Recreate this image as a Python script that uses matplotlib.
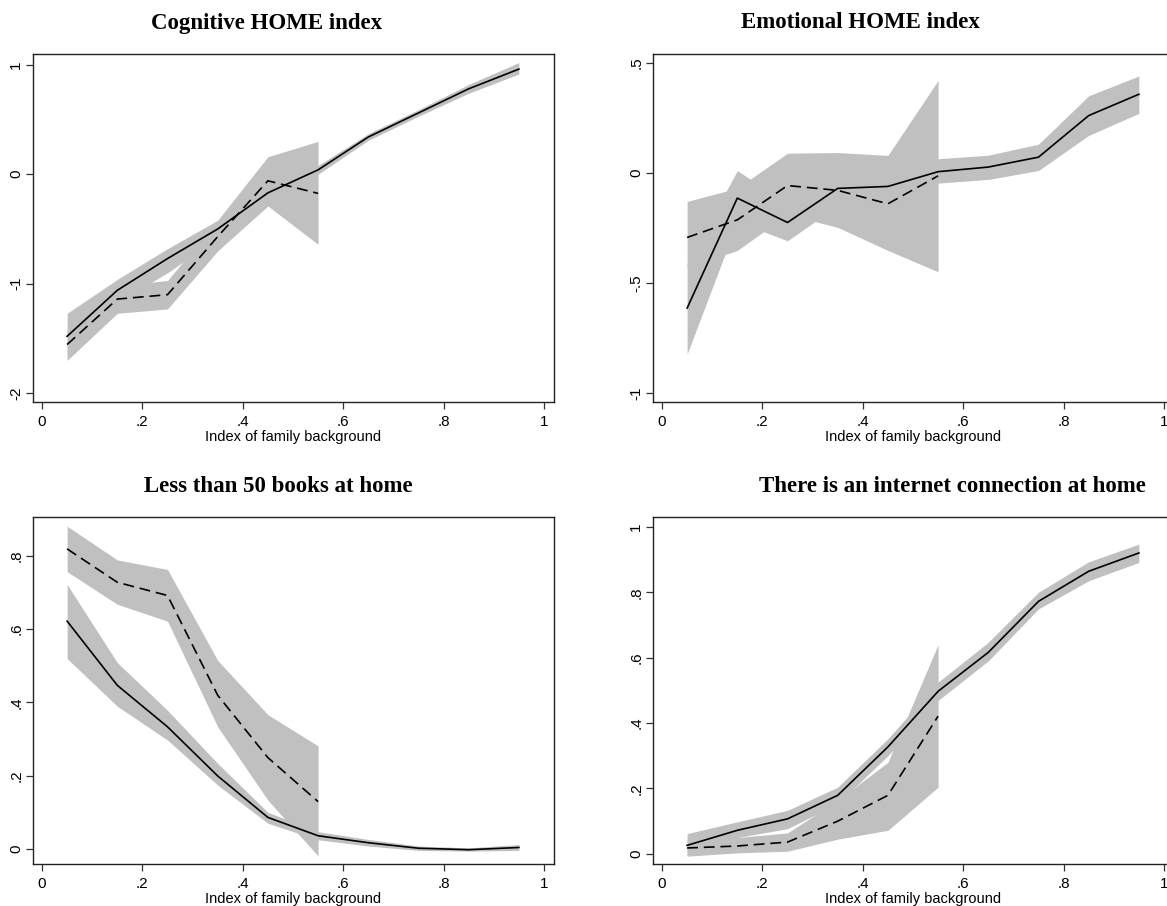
import matplotlib
matplotlib.use("Agg")
import matplotlib.pyplot as plt

# ---------------- data ----------------
x_all = [0.05, 0.15, 0.25, 0.35, 0.45, 0.55, 0.65, 0.75, 0.85, 0.95]
x_sub = [0.05, 0.15, 0.25, 0.35, 0.45, 0.55]

titles = ["Cognitive HOME index", "Emotional HOME index",
          "Less than 50 books at home", "There is an internet connection at home"]
xlabel = "Index of family background"
x_ticks = [0, 0.2, 0.4, 0.6, 0.8, 1]
x_ticklabels = ["0", ".2", ".4", ".6", ".8", "1"]

# Cognitive HOME index
cog_solid = [-1.48, -1.06, -0.77, -0.50, -0.17, 0.04, 0.34, 0.56, 0.78, 0.96]
cog_solid_lo = [-1.65, -1.17, -0.90, -0.58, -0.23, 0.00, 0.31, 0.53, 0.74, 0.915]
cog_solid_hi = [-1.27, -0.96, -0.68, -0.42, -0.11, 0.08, 0.37, 0.59, 0.82, 1.02]
cog_dash = [-1.555, -1.14, -1.10, -0.57, -0.06, -0.175]
cog_dash_lo = [-1.70, -1.27, -1.23, -0.70, -0.29, -0.64]
cog_dash_hi = [-1.42, -1.02, -0.97, -0.42, 0.16, 0.30]
cog_yticks = [-2, -1, 0, 1]
cog_yticklabels = ["-2", "-1", "0", "1"]

# Emotional HOME index
emo_solid = [-0.615, -0.115, -0.226, -0.071, -0.062, 0.005, 0.026, 0.071, 0.26, 0.357]
emo_solid_lo = [-0.824, -0.223, -0.309, -0.15, -0.13, -0.047, -0.03, 0.01, 0.17, 0.27]
emo_solid_hi = [-0.41, 0.01, -0.14, 0.07, 0.05, 0.064, 0.08, 0.13, 0.35, 0.44]
emo_dash = [-0.294, -0.214, -0.058, -0.08, -0.141, -0.014]
emo_dash_lo = [-0.43, -0.353, -0.19, -0.248, -0.353, -0.45]
emo_dash_hi = [-0.13, -0.07, 0.089, 0.092, 0.079, 0.42]
emo_yticks = [-1, -0.5, 0, 0.5]
emo_yticklabels = ["-1", "-.5", "0", ".5"]

# Less than 50 books at home
bks_solid = [0.621, 0.446, 0.333, 0.199, 0.086, 0.036, 0.017, 0.002, -0.002, 0.004]
bks_solid_lo = [0.519, 0.389, 0.297, 0.174, 0.07, 0.025, 0.008, -0.004, -0.006, -0.004]
bks_solid_hi = [0.721, 0.508, 0.378, 0.233, 0.10, 0.047, 0.026, 0.008, 0.003, 0.012]
bks_dash = [0.818, 0.727, 0.691, 0.419, 0.249, 0.129]
bks_dash_lo = [0.756, 0.667, 0.621, 0.333, 0.133, -0.019]
bks_dash_hi = [0.88, 0.788, 0.762, 0.514, 0.366, 0.281]
bks_yticks = [0, 0.2, 0.4, 0.6, 0.8]
bks_yticklabels = ["0", ".2", ".4", ".6", ".8"]

# Internet connection at home
net_solid = [0.026, 0.072, 0.107, 0.179, 0.327, 0.497, 0.616, 0.772, 0.864, 0.92]
net_solid_lo = [-0.005, 0.05, 0.077, 0.154, 0.30, 0.469, 0.59, 0.749, 0.835, 0.891]
net_solid_hi = [0.062, 0.098, 0.133, 0.204, 0.352, 0.525, 0.647, 0.80, 0.893, 0.947]
net_dash = [0.018, 0.024, 0.036, 0.10, 0.179, 0.421]
net_dash_lo = [-0.007, 0.003, 0.008, 0.045, 0.072, 0.204]
net_dash_hi = [0.045, 0.05, 0.064, 0.164, 0.28, 0.64]
net_yticks = [0, 0.2, 0.4, 0.6, 0.8, 1]
net_yticklabels = ["0", ".2", ".4", ".6", ".8", "1"]

# ---------------- layout ----------------
W, H = 1167, 906
fig = plt.figure(figsize=(W / 100, H / 100), dpi=100)
fig.patch.set_facecolor("white")

BAND = "#c0c0c0"
TICKFONT = "Liberation Sans"
TITLEFONT = "Liberation Serif"


def px_axes(left, top, right, bottom):
    return fig.add_axes([left / W, 1 - bottom / H, (right - left) / W, (bottom - top) / H])


panels = [
    dict(box=(33, 54, 554, 402), ylim=(-2.08, 1.098), title_x=267, title_y=23,
         s=cog_solid, slo=cog_solid_lo, shi=cog_solid_hi,
         d=cog_dash, dlo=cog_dash_lo, dhi=cog_dash_hi,
         yt=cog_yticks, ytl=cog_yticklabels, title=titles[0]),
    dict(box=(653, 54, 1174, 402), ylim=(-1.042, 0.54), title_x=860, title_y=23,
         s=emo_solid, slo=emo_solid_lo, shi=emo_solid_hi,
         d=emo_dash, dlo=emo_dash_lo, dhi=emo_dash_hi,
         yt=emo_yticks, ytl=emo_yticklabels, title=titles[1]),
    dict(box=(33, 517, 554, 864), ylim=(-0.041, 0.905), title_x=278, title_y=487,
         s=bks_solid, slo=bks_solid_lo, shi=bks_solid_hi,
         d=bks_dash, dlo=bks_dash_lo, dhi=bks_dash_hi,
         yt=bks_yticks, ytl=bks_yticklabels, title=titles[2]),
    dict(box=(653, 517, 1174, 864), ylim=(-0.031, 1.03), title_x=952, title_y=487,
         s=net_solid, slo=net_solid_lo, shi=net_solid_hi,
         d=net_dash, dlo=net_dash_lo, dhi=net_dash_hi,
         yt=net_yticks, ytl=net_yticklabels, title=titles[3]),
]

for p in panels:
    ax = px_axes(*p["box"])
    ax.set_xlim(-0.018, 1.02)
    ax.set_ylim(*p["ylim"])
    ax.fill_between(x_all, p["slo"], p["shi"], color=BAND, lw=0, zorder=1)
    ax.fill_between(x_sub, p["dlo"], p["dhi"], color=BAND, lw=0, zorder=1)
    ax.plot(x_all, p["s"], color="black", lw=1.2, zorder=3)
    ax.plot(x_sub, p["d"], color="black", lw=1.2, dashes=(6.5, 3.5), zorder=3)

    ax.set_xticks(x_ticks)
    ax.set_xticklabels(x_ticklabels, fontfamily=TICKFONT, fontsize=11)
    ax.set_yticks(p["yt"])
    ax.set_yticklabels(p["ytl"], fontfamily=TICKFONT, fontsize=11,
                       rotation=90, va="center")
    ax.tick_params(axis="x", direction="out", length=5, width=0.9,
                   color="#333333", pad=4)
    ax.tick_params(axis="y", direction="out", length=5, width=0.9,
                   color="#333333", pad=2)
    ax.set_xlabel(xlabel, fontfamily=TICKFONT, fontsize=10.5, labelpad=1)
    for sp in ax.spines.values():
        sp.set_linewidth(1.0)
        sp.set_color("#222222")

    fig.text(p["title_x"] / W, 1 - p["title_y"] / H, p["title"],
             fontfamily=TITLEFONT, fontweight="bold", fontsize=16.5,
             ha="center", va="center")

fig.savefig("out.png", dpi=100, facecolor="white")
